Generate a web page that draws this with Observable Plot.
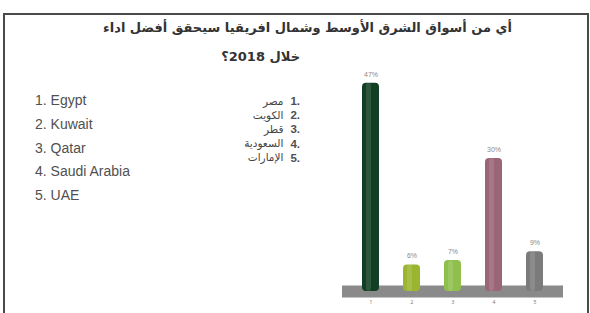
<!DOCTYPE html>
<html>
<head>
<meta charset="utf-8">
<script src="https://cdn.jsdelivr.net/npm/d3@7"></script>
<script src="https://cdn.jsdelivr.net/npm/@observablehq/plot@0.6"></script>
<style>
  html, body { margin: 0; padding: 0; background: #fff; }
  #wrap { position: relative; width: 590px; height: 313px; overflow: hidden; background: #fff; }
  #frame { position: absolute; left: 3px; top: 13px; width: 582px; height: 320px; border: 2px solid #4a4a4a; border-bottom: none; }
  #plot { position: absolute; left: 0; top: 0; }
  .title { position: absolute; font-family: "DejaVu Sans", sans-serif; font-weight: bold; font-size: 13px; line-height: 16px; color: #333; direction: rtl; white-space: nowrap; }
  .en { position: absolute; left: 35px; font-family: "Liberation Sans", Arial, sans-serif; font-size: 14px; line-height: 16px; color: #505050; white-space: nowrap; }
  .ar { position: absolute; right: 290px; display: flex; align-items: center; gap: 7px; height: 12px; white-space: nowrap; }
  .ar .nm { font-family: "DejaVu Sans", sans-serif; font-size: 10.5px; line-height: 11px; color: #444; direction: rtl; unicode-bidi: isolate; }
  .ar .nu { font-family: "Liberation Sans", Arial, sans-serif; font-size: 11.5px; line-height: 12px; font-weight: bold; color: #505050; direction: ltr; unicode-bidi: isolate; }
</style>
</head>
<body>
<div id="wrap">
  <div id="frame"></div>
  <div id="plot"></div>
</div>
<script>
const titleLines = ["أي من أسواق الشرق الأوسط وشمال افريقيا سيحقق أفضل اداء", "خلال 2018؟"];
const categories = ["1", "2", "3", "4", "5"];
const englishNames = ["Egypt", "Kuwait", "Qatar", "Saudi Arabia", "UAE"];
const arabicNames = ["مصر", "الكويت", "قطر", "السعودية", "الإمارات"];
const values = [47, 6, 7, 30, 9];
const valueLabels = ["47%", "6%", "7%", "30%", "9%"];
const palette = ["#123f24", "#9bb531", "#8fc04c", "#9a6576", "#7b7b7b"];

const data = categories.map((c, i) => ({cat: c, value: values[i], label: valueLabels[i]}));

const wrap = document.getElementById("wrap");

// title
const t1 = document.createElement("div");
t1.className = "title"; t1.style.right = "78px"; t1.style.top = "20px"; t1.textContent = titleLines[0];
wrap.appendChild(t1);
const t2 = document.createElement("div");
t2.className = "title"; t2.style.right = "290px"; t2.style.top = "49px"; t2.textContent = titleLines[1];
wrap.appendChild(t2);

// English list
englishNames.forEach((n, i) => {
  const d = document.createElement("div");
  d.className = "en";
  d.style.top = (92 + i * 23.8) + "px";
  d.textContent = (i + 1) + ". " + n;
  wrap.appendChild(d);
});
// Arabic list
arabicNames.forEach((n, i) => {
  const d = document.createElement("div");
  d.className = "ar";
  d.style.top = (95 + i * 14.2) + "px";
  const nm = document.createElement("span");
  nm.className = "nm"; nm.textContent = n;
  const nu = document.createElement("span");
  nu.className = "nu"; nu.textContent = (i + 1) + ".";
  d.appendChild(nm); d.appendChild(nu);
  wrap.appendChild(d);
});

const chart = Plot.plot({
  width: 590,
  height: 313,
  marginLeft: 342,
  marginRight: 27,
  marginTop: 69.5,
  marginBottom: 22,
  style: {background: "transparent", overflow: "visible"},
  x: {domain: categories, paddingInner: 0.59, paddingOuter: 0.46, label: null},
  y: {domain: [0, 50], axis: null},
  color: {domain: categories, range: palette},
  marks: [
    Plot.ruleY([0], {stroke: "#8a8a8a", strokeWidth: 12}),
    Plot.barY(data, {x: "cat", y: "value", fill: "cat", rx: 4}),
    Plot.barY(data, {x: "cat", y: "value", fill: "white", fillOpacity: 0.12, insetLeft: 4, insetRight: 8, rx: 3}),
    Plot.text(data, {x: "cat", y: "value", text: "label", dy: -9, fontSize: 7, fill: "#8a8a8a", fontFamily: "Liberation Sans, Arial, sans-serif"}),
    Plot.axisX({tickSize: 0, tickPadding: 9, fontSize: 5, color: "#777", label: null})
  ]
});
document.getElementById("plot").appendChild(chart);
</script>
</body>
</html>
